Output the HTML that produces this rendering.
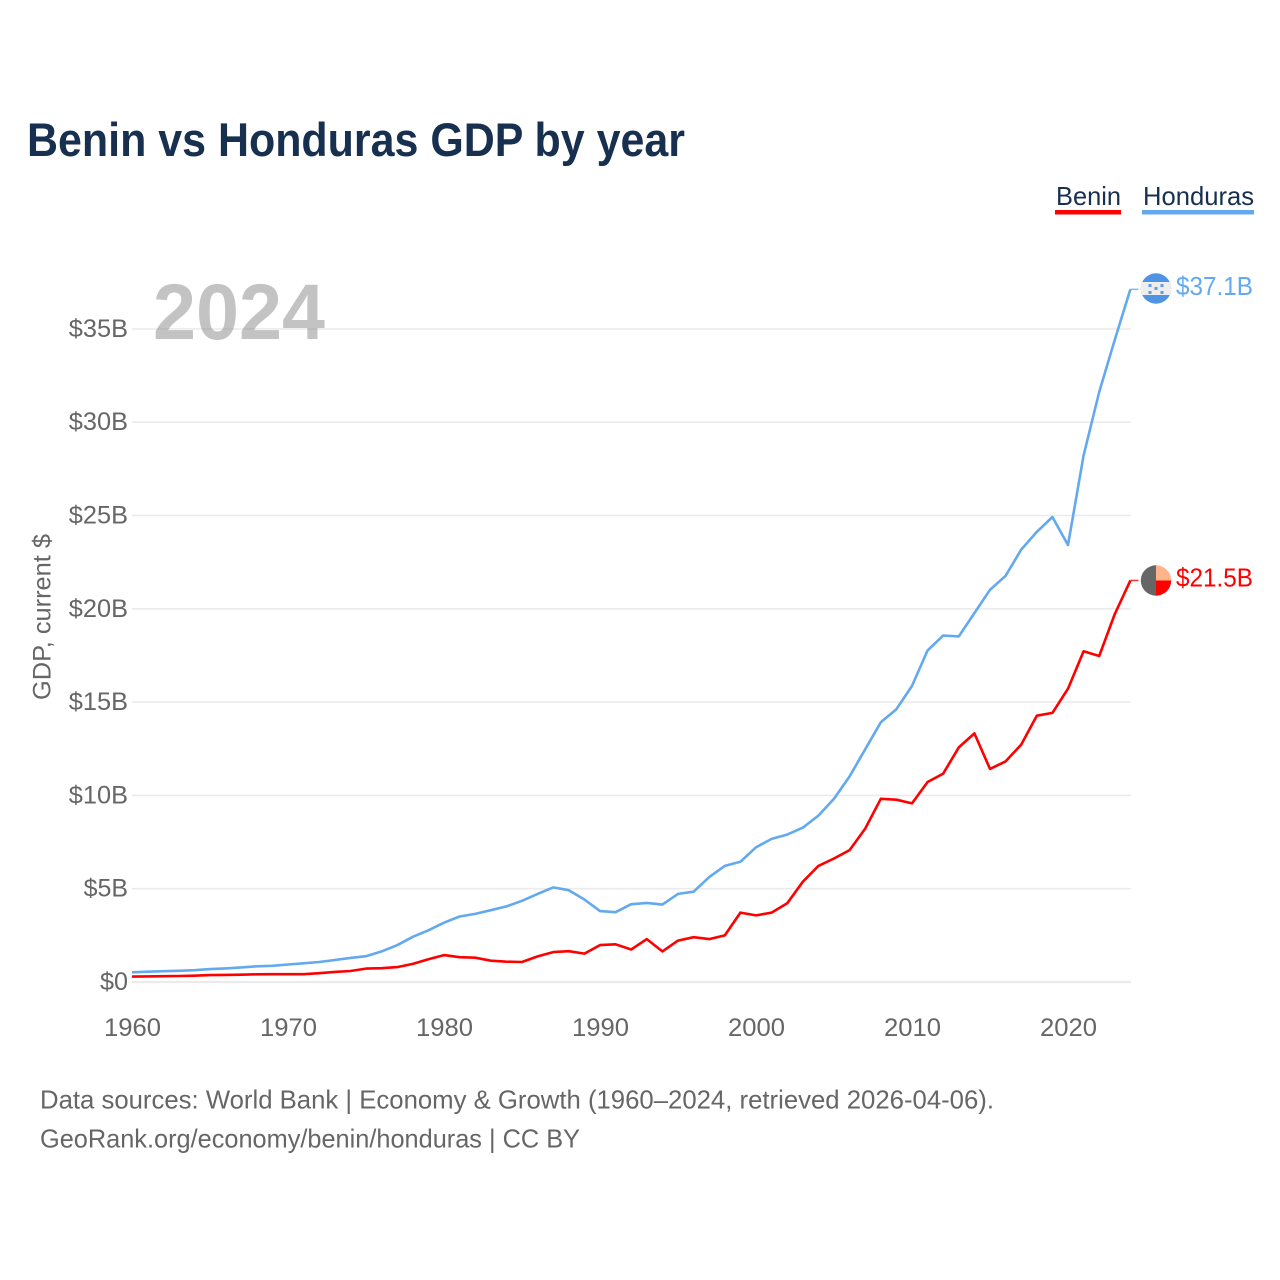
<!DOCTYPE html>
<html lang="en">
<head>
<meta charset="utf-8">
<title>Benin vs Honduras GDP by year</title>
<style>
html,body{margin:0;padding:0;background:#fff;}
svg{display:block;font-family:"Liberation Sans",sans-serif;}
</style>
</head>
<body>
<svg id="chart" xmlns="http://www.w3.org/2000/svg" width="1280" height="1280" viewBox="0 0 1280 1280">
  <defs>
    <clipPath id="clip-hn"><circle cx="1156" cy="288.5" r="15.2"/></clipPath>
    <clipPath id="clip-bj"><circle cx="1156" cy="580.5" r="15.2"/></clipPath>
  </defs>
  <text x="27" y="156" font-size="47" font-weight="700" fill="#18304f" textLength="658" lengthAdjust="spacingAndGlyphs">Benin vs Honduras GDP by year</text>

  <g>
    <g>
      <text x="1056" y="205" font-size="26" fill="#18304f" textLength="65" lengthAdjust="spacingAndGlyphs">Benin</text>
      <rect x="1055" y="210" width="66" height="4.5" fill="#ff0000"/>
    </g>
    <g>
      <text x="1143" y="205" font-size="26" fill="#18304f" textLength="111" lengthAdjust="spacingAndGlyphs">Honduras</text>
      <rect x="1142" y="210" width="112" height="4.5" fill="#63a9ef"/>
    </g>
  </g>

  <g id="grid"></g>
  <g id="y-axis"></g>
  <g id="x-axis"></g>

  <text transform="translate(50.5,700) rotate(-90)" font-size="25" fill="#666" textLength="166" lengthAdjust="spacingAndGlyphs">GDP, current $</text>

  <text x="153" y="339" font-size="79" font-weight="700" fill="#8c8c8c" fill-opacity="0.52" textLength="172" lengthAdjust="spacingAndGlyphs">2024</text>

  <g id="series"></g>

  <g clip-path="url(#clip-hn)">
    <rect x="1140" y="273" width="32" height="32" fill="#4f93e3"/>
    <rect x="1140" y="282" width="32" height="13" fill="#eeeeee"/>
    <g fill="#5b9fe8">
      <rect x="1148.5" y="284" width="3" height="3"/>
      <rect x="1160.5" y="284" width="3" height="3"/>
      <rect x="1154.5" y="287" width="3" height="3"/>
      <rect x="1148.5" y="291" width="3" height="3"/>
      <rect x="1160.5" y="291" width="3" height="3"/>
    </g>
  </g>
  <g clip-path="url(#clip-bj)">
    <rect x="1140" y="565" width="16" height="32" fill="#666666"/>
    <rect x="1156" y="565" width="16" height="15.5" fill="#ffb38a"/>
    <rect x="1156" y="580.5" width="16" height="16" fill="#ff0000"/>
  </g>
  <text x="1176" y="295" font-size="26" fill="#63a9ef" textLength="77" lengthAdjust="spacingAndGlyphs">$37.1B</text>
  <text x="1176" y="586.5" font-size="26" fill="#ff0000" textLength="77" lengthAdjust="spacingAndGlyphs">$21.5B</text>

  <text x="40" y="1108.5" font-size="26" fill="#666" textLength="954" lengthAdjust="spacingAndGlyphs">Data sources: World Bank | Economy &amp; Growth (1960–2024, retrieved 2026-04-06).</text>
  <text x="40" y="1147.5" font-size="26" fill="#666" textLength="540" lengthAdjust="spacingAndGlyphs">GeoRank.org/economy/benin/honduras | CC BY</text>
</svg>
<script>
const years = [1960,1961,1962,1963,1964,1965,1966,1967,1968,1969,1970,1971,1972,1973,1974,1975,1976,1977,1978,1979,1980,1981,1982,1983,1984,1985,1986,1987,1988,1989,1990,1991,1992,1993,1994,1995,1996,1997,1998,1999,2000,2001,2002,2003,2004,2005,2006,2007,2008,2009,2010,2011,2012,2013,2014,2015,2016,2017,2018,2019,2020,2021,2022,2023,2024];
const hondurasGdp = [0.52,0.55,0.58,0.60,0.63,0.69,0.73,0.78,0.84,0.87,0.94,1.00,1.07,1.18,1.29,1.38,1.64,1.97,2.42,2.77,3.18,3.51,3.65,3.85,4.05,4.35,4.72,5.07,4.92,4.42,3.80,3.74,4.17,4.24,4.15,4.72,4.84,5.62,6.22,6.44,7.22,7.67,7.90,8.27,8.92,9.82,11.02,12.47,13.92,14.62,15.87,17.77,18.57,18.52,19.77,21.02,21.77,23.17,24.12,24.92,23.42,28.22,31.62,34.42,37.12];
const beninGdp = [0.29,0.30,0.31,0.32,0.34,0.37,0.38,0.39,0.41,0.42,0.42,0.42,0.47,0.54,0.59,0.72,0.74,0.80,0.97,1.22,1.44,1.33,1.30,1.14,1.09,1.07,1.37,1.60,1.65,1.52,1.98,2.02,1.74,2.30,1.64,2.22,2.40,2.30,2.50,3.72,3.57,3.72,4.22,5.37,6.22,6.62,7.07,8.22,9.82,9.77,9.57,10.72,11.17,12.57,13.32,11.42,11.82,12.72,14.27,14.42,15.72,17.72,17.47,19.72,21.52];
const yTicks = [0,5,10,15,20,25,30,35];
const xTicks = [1960,1970,1980,1990,2000,2010,2020];

const NS = 'http://www.w3.org/2000/svg';
const xScale = v => 132 + (v - 1960) * 15.6;
const yScale = v => 982 - v * 18.66;
const mk = (parent, tag, attrs) => {
  const el = document.createElementNS(NS, tag);
  for (const k in attrs) el.setAttribute(k, attrs[k]);
  parent.appendChild(el);
  return el;
};
const grid = document.getElementById('grid');
const yAxis = document.getElementById('y-axis');
const xAxis = document.getElementById('x-axis');
const series = document.getElementById('series');

yTicks.forEach(t => {
  const line = mk(grid, 'line', {x1: 132, x2: 1131, y1: yScale(t), y2: yScale(t), stroke: '#ebebeb', 'stroke-width': t === 0 ? 2.2 : 1.6});
  
  
  const label = '$' + t + (t === 0 ? '' : 'B');
  const txt = mk(yAxis, 'text', {x: 128, y: yScale(t) + 8, 'text-anchor': 'end', 'font-size': 25, fill: '#666', textLength: label.length * 14.8 - (t === 0 ? 1.6 : 0), lengthAdjust: 'spacingAndGlyphs'});
  txt.textContent = label;
  
  
});

xTicks.forEach(t => {
  const txt = mk(xAxis, 'text', {x: xScale(t) + 0.5, y: 1036, 'text-anchor': 'middle', 'font-size': 25, fill: '#666', textLength: 57, lengthAdjust: 'spacingAndGlyphs'});
  txt.textContent = String(t);
  
  
});

function drawSeries(values, color, name) {
  const pts = values.map((v, i) => xScale(years[i]).toFixed(1) + ',' + yScale(v).toFixed(1));
  const path = mk(series, 'polyline', {points: pts.join(' '), fill: 'none', stroke: color, 'stroke-width': 2.6, 'stroke-linejoin': 'round'});
  
  
  const last = values[values.length - 1];
  const lastX = xScale(years[years.length - 1]);
  const leader = mk(series, 'line', {x1: lastX, x2: lastX + 8, y1: yScale(last), y2: yScale(last), stroke: color, 'stroke-width': 1.5, 'stroke-opacity': 0.8});
  
  
}
drawSeries(hondurasGdp, '#63a9ef', 'honduras-line');
drawSeries(beninGdp, '#ff0000', 'benin-line');
</script>
</body>
</html>
